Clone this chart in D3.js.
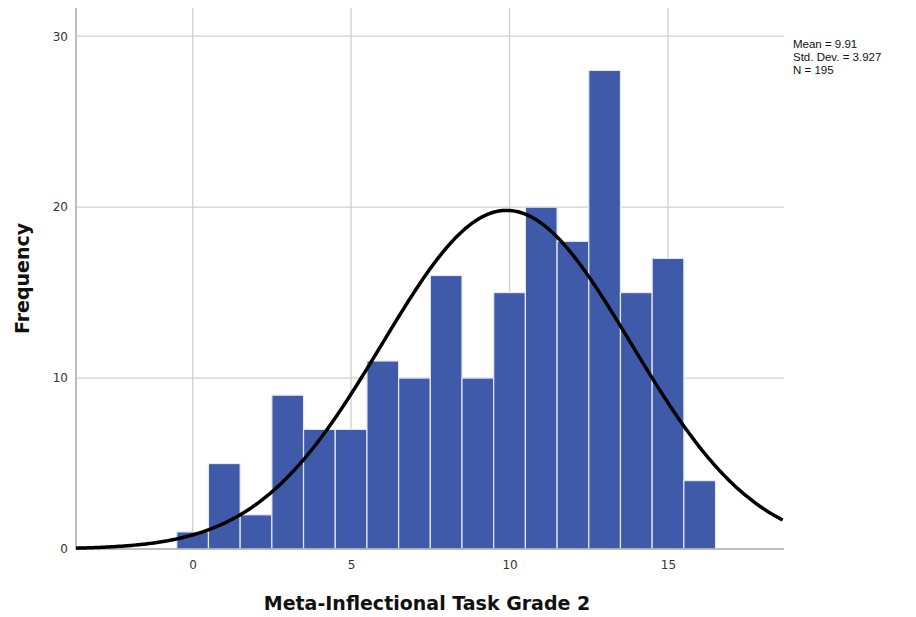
<!DOCTYPE html>
<html>
<head>
<meta charset="utf-8">
<script src="https://cdn.jsdelivr.net/npm/d3@7"></script>
<style>
  body { margin: 0; background: #fff; }
  svg { display: block; }
</style>
</head>
<body>
<svg id="chart" width="916" height="617"></svg>
<script>
// Histogram of Meta-Inflectional Task Grade 2 scores with a fitted normal curve
const scores = [0, 1, 2, 3, 4, 5, 6, 7, 8, 9, 10, 11, 12, 13, 14, 15, 16];
const counts = [1, 5, 2, 9, 7, 7, 11, 10, 16, 10, 15, 20, 18, 28, 15, 17, 4];
const xTicks = [0, 5, 10, 15];
const yTicks = [0, 10, 20, 30];
const stats = { mean: 9.91, sd: 3.927, n: 195 };
const statLines = ["Mean = 9.91", "Std. Dev. = 3.927", "N = 195"];

const svg = d3.select("#chart");
const plot = { left: 76, right: 784, top: 8, bottom: 549 };

const x = d3.scaleLinear().domain([-3.68, 18.66]).range([plot.left, plot.right]);
const y = d3.scaleLinear().domain([0, 31.65]).range([plot.bottom, plot.top]);

const font = "'Liberation Sans', Arial, 'DejaVu Sans', sans-serif";
const tickFont = "'DejaVu Sans', 'Open Sans', sans-serif";

// grid lines
svg.append("g").selectAll("line.vg").data(xTicks).join("line")
  .attr("x1", d => x(d)).attr("x2", d => x(d))
  .attr("y1", plot.top).attr("y2", plot.bottom)
  .attr("stroke", "#d0d0d0").attr("stroke-width", 1.3);
svg.append("g").selectAll("line.hg").data(yTicks.filter(d => d > 0)).join("line")
  .attr("x1", plot.left).attr("x2", plot.right)
  .attr("y1", d => y(d)).attr("y2", d => y(d))
  .attr("stroke", "#d0d0d0").attr("stroke-width", 1.3);

// bars
svg.append("g").selectAll("rect").data(scores).join("rect")
  .attr("x", (d) => x(d - 0.5))
  .attr("width", (d) => x(d + 0.5) - x(d - 0.5))
  .attr("y", (d, i) => y(counts[i]))
  .attr("height", (d, i) => y(0) - y(counts[i]))
  .attr("fill", "#3f5aa8")
  .attr("stroke", "#e6e9f3").attr("stroke-width", 1.2);

// axes
const xAxis = d3.axisBottom(x).tickValues(xTicks).tickSize(0).tickPadding(11);
const yAxis = d3.axisLeft(y).tickValues(yTicks).tickSize(0).tickPadding(8);

const gx = svg.append("g").attr("transform", `translate(0,${plot.bottom})`).call(xAxis);
gx.select(".domain").remove();
gx.selectAll("text").attr("font-family", tickFont).attr("font-size", 12).attr("fill", "#333");

const gy = svg.append("g").attr("transform", `translate(${plot.left},0)`).call(yAxis);
gy.select(".domain").remove();
gy.selectAll("text").attr("font-family", tickFont).attr("font-size", 12).attr("fill", "#333");

svg.append("line").attr("x1", plot.left).attr("x2", plot.right)
  .attr("y1", plot.bottom).attr("y2", plot.bottom)
  .attr("stroke", "#a8a8a8").attr("stroke-width", 1.5);
svg.append("line").attr("x1", plot.left).attr("x2", plot.left)
  .attr("y1", plot.top).attr("y2", plot.bottom)
  .attr("stroke", "#a8a8a8").attr("stroke-width", 1.5);

// normal curve scaled to counts (bin width 1)
const [x0, x1] = x.domain();
const curveX = d3.range(x0, x1 + 0.001, 0.05);
const pdf = v => stats.n / (stats.sd * Math.sqrt(2 * Math.PI)) *
  Math.exp(-0.5 * ((v - stats.mean) / stats.sd) ** 2);
svg.append("path")
  .datum(curveX)
  .attr("d", d3.line().x(d => x(d)).y(d => y(pdf(d))))
  .attr("fill", "none").attr("stroke", "#000").attr("stroke-width", 3.5);

// statistics box
svg.append("g").selectAll("text").data(statLines).join("text")
  .attr("x", 793).attr("y", (d, i) => 48 + i * 13)
  .attr("font-family", font).attr("font-size", 11.5).attr("fill", "#111")
  .text(d => d);

// axis titles
svg.append("text").attr("x", (plot.left + plot.right) / 2 - 3).attr("y", 610)
  .attr("text-anchor", "middle").attr("font-family", tickFont)
  .attr("font-size", 19).attr("font-weight", "bold").attr("fill", "#111")
  .text("Meta-Inflectional Task Grade 2");
svg.append("text")
  .attr("transform", `translate(29,${(plot.top + plot.bottom) / 2}) rotate(-90)`)
  .attr("text-anchor", "middle").attr("font-family", tickFont)
  .attr("font-size", 19).attr("font-weight", "bold").attr("fill", "#111")
  .text("Frequency");
</script>
</body>
</html>
